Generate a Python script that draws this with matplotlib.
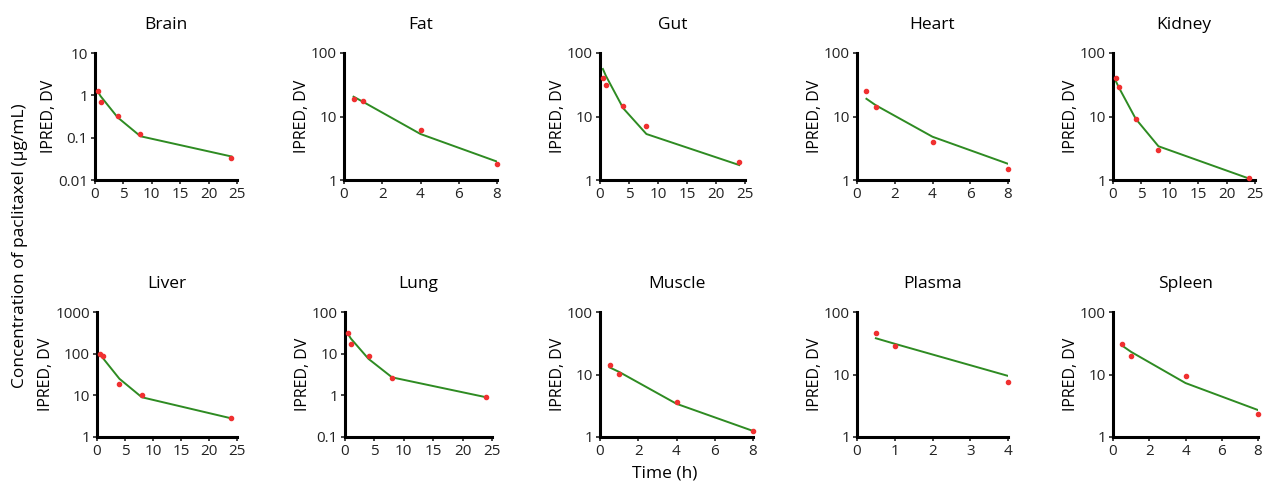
import numpy as np
import matplotlib
matplotlib.use("Agg")
import matplotlib.pyplot as plt
from matplotlib.ticker import FixedLocator, FormatStrFormatter, NullLocator

plt.rcParams["font.family"] = ["Open Sans", "DejaVu Sans"]

# Observed (DV) and individual predictions (IPRED) per tissue
tissues = ["Brain", "Fat", "Gut", "Heart", "Kidney",
           "Liver", "Lung", "Muscle", "Plasma", "Spleen"]

t_24 = [0.5, 1, 4, 8, 24]
t_8 = [0.5, 1, 4, 8]
t_4 = [0.5, 1, 4]

brain_dv = [1.3, 0.7, 0.33, 0.125, 0.034]
brain_ipred = [1.22, 0.95, 0.30, 0.108, 0.036]

fat_dv = [19, 17.5, 6.2, 1.8]
fat_ipred = [20.5, 17, 5.3, 1.95]

gut_dv = [40, 31, 14.5, 7.0, 1.9]
gut_ipred = [56, 44, 13.5, 5.3, 1.72]

heart_dv = [25, 14, 3.9, 1.5]
heart_ipred = [19, 15, 4.8, 1.8]

kidney_dv = [40, 29, 9.0, 3.0, 1.08]
kidney_ipred = [36, 29, 9.2, 3.4, 1.05]

liver_dv = [100, 88, 19, 10, 2.8]
liver_ipred = [95, 80, 25, 9, 2.8]

lung_dv = [31, 17, 9.0, 2.6, 0.93]
lung_ipred = [30, 23, 7.5, 2.7, 0.9]

muscle_dv = [14, 10.2, 3.6, 1.25]
muscle_ipred = [13, 11, 3.4, 1.25]

plasma_dv = [46, 29, 7.6]
plasma_ipred = [38, 31, 9.5]

spleen_dv = [31, 19.5, 9.4, 2.3]
spleen_ipred = [29, 23, 7.3, 2.7]

times = [t_24, t_8, t_24, t_8, t_24, t_24, t_24, t_8, t_4, t_8]
dvs = [brain_dv, fat_dv, gut_dv, heart_dv, kidney_dv,
       liver_dv, lung_dv, muscle_dv, plasma_dv, spleen_dv]
ipreds = [brain_ipred, fat_ipred, gut_ipred, heart_ipred, kidney_ipred,
          liver_ipred, lung_ipred, muscle_ipred, plasma_ipred, spleen_ipred]

x_ticks = [[0, 5, 10, 15, 20, 25], [0, 2, 4, 6, 8], [0, 5, 10, 15, 20, 25],
           [0, 2, 4, 6, 8], [0, 5, 10, 15, 20, 25], [0, 5, 10, 15, 20, 25],
           [0, 5, 10, 15, 20, 25], [0, 2, 4, 6, 8], [0, 1, 2, 3, 4],
           [0, 2, 4, 6, 8]]
y_ticks = [[0.01, 0.1, 1, 10], [1, 10, 100], [1, 10, 100], [1, 10, 100],
           [1, 10, 100], [1, 10, 100, 1000], [0.1, 1, 10, 100],
           [1, 10, 100], [1, 10, 100], [1, 10, 100]]

W, H = 1268, 491
fig = plt.figure(figsize=(W / 100, H / 100), dpi=100)

# axes boxes in pixels: left, top, right, bottom
boxes = [(95, 53, 237, 180), (344, 53, 497, 180), (600, 53, 745, 180),
         (857, 53, 1008, 180), (1113, 53, 1255, 180),
         (97, 312, 237, 437), (345, 312, 492, 437), (600, 312, 753, 437),
         (857, 312, 1008, 437), (1113, 312, 1258, 437)]

for i, name in enumerate(tissues):
    l, t, r, b = boxes[i]
    ax = fig.add_axes([l / W, 1 - b / H, (r - l) / W, (b - t) / H])
    ax.plot(times[i], ipreds[i], color="#2e8b22", lw=1.4, zorder=2)
    ax.plot(times[i], dvs[i], "o", color="#f03030", ms=3.0, zorder=3,
            clip_on=False)
    ax.set_yscale("log")
    ax.set_xlim(x_ticks[i][0], x_ticks[i][-1])
    ax.set_ylim(y_ticks[i][0], y_ticks[i][-1])
    ax.xaxis.set_major_locator(FixedLocator(x_ticks[i]))
    ax.yaxis.set_major_locator(FixedLocator(y_ticks[i]))
    ax.yaxis.set_minor_locator(NullLocator())
    ax.yaxis.set_major_formatter(FormatStrFormatter("%g"))
    for s in ["top", "right"]:
        ax.spines[s].set_visible(False)
    for s in ["left", "bottom"]:
        ax.spines[s].set_linewidth(2.2)
    ax.tick_params(axis="both", length=3, width=1.2, labelsize=11,
                   colors="#222222", pad=2)
    ax.set_title(name, fontsize=12.5, pad=17)
    ax.set_ylabel("IPRED, DV", fontsize=11.5, labelpad=1)

fig.text(20 / W, 0.5, "Concentration of paclitaxel (\u03bcg/mL)",
         rotation=90, va="center", ha="center", fontsize=12.5)
fig.text(665 / W, 1 - 474 / H, "Time (h)", ha="center", va="center",
         fontsize=12.5)

fig.savefig("out.png", dpi=100)
